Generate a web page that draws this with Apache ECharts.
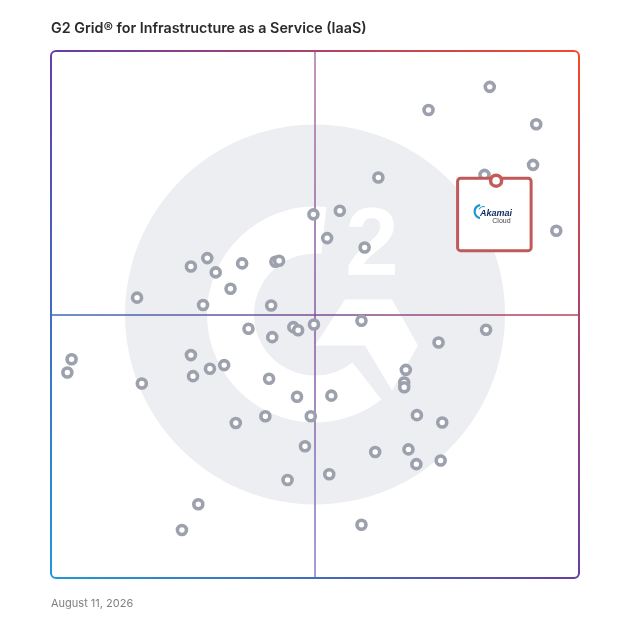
<!DOCTYPE html>
<html>
<head>
<meta charset="utf-8">
<script src="https://cdn.jsdelivr.net/npm/echarts@6/dist/echarts.min.js"></script>
<style>
html,body{margin:0;padding:0;background:#ffffff;}
#chart{width:628px;height:628px;}
</style>
</head>
<body>
<div id="chart"></div>
<script>
// ---- data ----
const titleText = 'G2 Grid® for Infrastructure as a Service (IaaS)';
const dateText = 'August 11, 2026';
// x = Market Presence (0-100), y = Satisfaction (0-100)
const productX = [83.1, 71.5, 91.9, 91.3, 82.1, 62.0, 54.7, 49.7, 52.3, 59.4,
                  95.7, 26.5, 29.6, 31.2, 36.2, 42.5, 43.2, 34.0, 16.3, 28.8,
                  41.7, 37.4, 41.9, 45.9, 46.8, 49.8, 58.8, 82.4, 73.4, 26.5,
                  32.8, 30.1, 26.9, 17.2, 41.3, 3.9, 3.1, 67.2, 66.9, 66.9,
                  46.6, 53.1, 49.2, 69.3, 74.1, 40.6, 35.0, 48.1, 61.4, 67.7,
                  69.2, 73.8, 52.7, 44.8, 27.9, 24.8, 58.8];
const productY = [93.2, 88.8, 86.1, 78.4, 76.5, 76.0, 69.7, 69.0, 64.5, 62.7,
                  65.9, 59.1, 60.7, 58.0, 59.7, 60.0, 60.2, 54.9, 53.2, 51.8,
                  51.7, 47.3, 45.7, 47.6, 47.0, 48.1, 48.8, 47.1, 44.7, 42.3,
                  40.4, 39.7, 38.3, 36.9, 37.8, 41.5, 39.0, 39.5, 37.1, 36.2,
                  34.4, 34.6, 30.7, 30.9, 29.5, 30.7, 29.4, 25.0, 23.9, 24.4,
                  21.6, 22.3, 19.7, 18.6, 14.0, 9.1, 10.1];
const highlightName = 'Akamai';
const highlightSub = 'Cloud';
const highlightX = [84.3];
const highlightY = [75.4];
const axisMin = 0, axisMax = 100, midValue = 50;

// ---- chart ----
const chart = echarts.init(document.getElementById('chart'), null, {renderer: 'canvas', width: 628, height: 628});
const grayData = productX.map((x, i) => [x, productY[i]]);
const hiData = highlightX.map((x, i) => [x, highlightY[i]]);

chart.setOption({
  animation: false,
  title: [
    {text: titleText, left: 51, top: 22, padding: 0,
     textStyle: {fontFamily: 'Inter', fontWeight: 600, fontSize: 14.3, color: '#2a2a2a'}},
    {text: dateText, left: 51, top: 598, padding: 0,
     textStyle: {fontFamily: 'Inter', fontWeight: 400, fontSize: 11, color: '#808080'}}
  ],
  grid: {left: 51, top: 51, right: 49, bottom: 50},
  xAxis: {type: 'value', min: axisMin, max: axisMax, show: false},
  yAxis: {type: 'value', min: axisMin, max: axisMax, show: false},
  series: [
    {
      type: 'scatter', data: grayData, symbol: 'circle', symbolSize: 9, z: 10, silent: true,
      itemStyle: {color: '#ffffff', borderColor: '#9ca1ad', borderWidth: 3.6, opacity: 1},
      markLine: {
        silent: true, symbol: 'none', z: 5, label: {show: false},
        data: [
          {xAxis: midValue, lineStyle: {type: 'solid', width: 1.6, color: {type: 'linear', x: 0, y: 0, x2: 0, y2: 1,
            colorStops: [{offset: 0, color: '#b57cad'}, {offset: 0.5, color: '#8e62a6'}, {offset: 1, color: '#8a88cc'}]}}},
          {yAxis: midValue, lineStyle: {type: 'solid', width: 1.6, color: {type: 'linear', x: 0, y: 0, x2: 1, y2: 0,
            colorStops: [{offset: 0, color: '#3c6bbd'}, {offset: 0.5, color: '#7a4f96'}, {offset: 1, color: '#c2425a'}]}}}
        ]
      }
    },
    {
      type: 'scatter', data: hiData, symbol: 'circle', symbolSize: 11, z: 20, silent: true,
      itemStyle: {color: '#ffffff', borderColor: '#c25b5b', borderWidth: 3.5, opacity: 1}
    }
  ]
});

// decorations positioned through the chart's own scales
const p00 = chart.convertToPixel({gridIndex: 0}, [axisMin, axisMin]);
const p11 = chart.convertToPixel({gridIndex: 0}, [axisMax, axisMax]);
const pc = chart.convertToPixel({gridIndex: 0}, [midValue, midValue]);
const ph = chart.convertToPixel({gridIndex: 0}, hiData[0]);
const cx = pc[0], cy = pc[1];
const deg = Math.PI / 180;

chart.setOption({
  graphic: {
    elements: [
      // watermark
      {type: 'circle', z: 1, silent: true, shape: {cx: cx, cy: cy, r: 190}, style: {fill: '#eceef1'}},
      {type: 'sector', z: 1, silent: true,
       shape: {cx: cx, cy: cy, r0: 61, r: 108, startAngle: 52 * deg, endAngle: 276 * deg, clockwise: true},
       style: {fill: '#ffffff'}},
      {type: 'polygon', z: 1, silent: true,
       shape: {points: [[cx + 0, cy + 31], [cx + 30, cy - 15], [cx + 77, cy - 15], [cx + 103, cy + 31], [cx + 77, cy + 76], [cx + 50, cy + 31]]},
       style: {fill: '#ffffff'}},
      {type: 'text', z: 1, silent: true, x: cx + 57, y: cy - 66,
       style: {text: '2', fill: '#ffffff', font: 'bold 96px "Liberation Sans", Arial, sans-serif', align: 'center', verticalAlign: 'middle'}},
      // frame
      {type: 'rect', z: 6, silent: true,
       shape: {x: p00[0], y: p11[1], width: p11[0] - p00[0], height: p00[1] - p11[1], r: 5},
       style: {fill: 'none', lineWidth: 2, stroke: {type: 'linear', x: 0, y: 1, x2: 1, y2: 0,
         colorStops: [{offset: 0, color: '#1e9ad8'}, {offset: 0.5, color: '#653ea6'}, {offset: 1, color: '#f64a28'}]}}},
      // callout box
      {type: 'rect', z: 12, silent: true,
       shape: {x: ph[0] - 38.5, y: ph[1] - 2.5, width: 73.5, height: 72.5, r: 3},
       style: {fill: '#ffffff', stroke: '#c05a5a', lineWidth: 3}},
      {type: 'arc', z: 13, silent: true,
       shape: {cx: ph[0] - 15, cy: ph[1] + 31, r: 6.5, startAngle: 100 * deg, endAngle: 262 * deg, clockwise: true},
       style: {stroke: '#1b93d5', lineWidth: 2.2, fill: 'none'}},
      {type: 'arc', z: 13, silent: true,
       shape: {cx: ph[0] - 12.5, cy: ph[1] + 31, r: 5, startAngle: 205 * deg, endAngle: 285 * deg, clockwise: true},
       style: {stroke: '#1b93d5', lineWidth: 1, fill: 'none'}},
      {type: 'text', z: 13, silent: true, x: ph[0] - 16, y: ph[1] + 33,
       style: {text: highlightName, fill: '#0e2b5f', font: 'italic bold 9px "Liberation Sans", Arial, sans-serif', align: 'left', verticalAlign: 'middle'}},
      {type: 'text', z: 13, silent: true, x: ph[0] + 14.5, y: ph[1] + 40.5,
       style: {text: highlightSub, fill: '#444444', font: '7px "Liberation Sans", Arial, sans-serif', align: 'right', verticalAlign: 'middle'}}
    ]
  }
});
</script>
</body>
</html>
